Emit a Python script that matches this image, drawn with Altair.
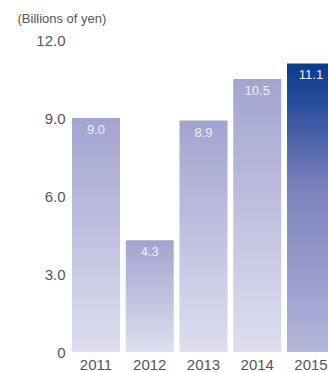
import altair as alt
import pandas as pd

years = ["2011", "2012", "2013", "2014", "2015"]
values = [9.0, 4.3, 8.9, 10.5, 11.1]
y_ticks = [0, 3, 6, 9, 12]

df = pd.DataFrame({"year": years, "value": values})
df["label"] = [f"{v:.1f}" for v in values]

FONT = "Liberation Sans"
TXT = "#555555"

grad_light = alt.LinearGradient(
    gradient="linear", x1=0, y1=0, x2=0, y2=1,
    stops=[alt.GradientStop(color="#a2a4cf", offset=0),
           alt.GradientStop(color="#dedeef", offset=1)],
)
grad_dark = alt.LinearGradient(
    gradient="linear", x1=0, y1=0, x2=0, y2=1,
    stops=[alt.GradientStop(color="#0a3a8e", offset=0),
           alt.GradientStop(color="#2c4f9d", offset=0.15),
           alt.GradientStop(color="#7a80bb", offset=0.42),
           alt.GradientStop(color="#b4b6da", offset=1)],
)

x_enc = alt.X(
    "year:N", sort=years,
    scale=alt.Scale(range=[0, 263], paddingInner=0.107, paddingOuter=0),
    axis=alt.Axis(title=None, labelAngle=0, ticks=False, domain=False,
                  labelFontSize=15, labelColor=TXT, labelFont=FONT,
                  labelPadding=5),
)
y_enc = alt.Y(
    "value:Q",
    scale=alt.Scale(domain=[0, 12], nice=False),
    axis=alt.Axis(values=y_ticks, grid=False, domain=False, ticks=False,
                  labelExpr="datum.value == 0 ? '0' : format(datum.value, '.1f')",
                  labelFontSize=15, labelColor=TXT, labelFont=FONT,
                  labelPadding=7, labelBaseline="middle",
                  title="(Billions of yen)", titleAngle=0, titleX=-55, titleY=-22,
                  titleAlign="left", titleBaseline="middle", titleFont=FONT,
                  titleFontSize=13, titleFontWeight="normal", titleColor=TXT),
)

base = alt.Chart(df)

bars_light = base.transform_filter(alt.datum.year != "2015").mark_bar(
    color=grad_light).encode(x=x_enc, y=y_enc)
bars_dark = base.transform_filter(alt.datum.year == "2015").mark_bar(
    color=grad_dark).encode(x=x_enc, y=y_enc)

labels = base.mark_text(
    dy=12, baseline="middle", align="center", fontSize=13, font=FONT,
    color="#eeeef8",
).encode(x=x_enc, y=y_enc, text="label:N")

chart = alt.layer(bars_light, bars_dark, labels).properties(
    width=256, height=312,
    autosize=alt.AutoSizeParams(type="none"),
    padding={"left": 72, "top": 40, "right": 0, "bottom": 20},
).configure_view(stroke=None)

chart.save("out.html", embed_options={"renderer": "svg", "actions": False})
